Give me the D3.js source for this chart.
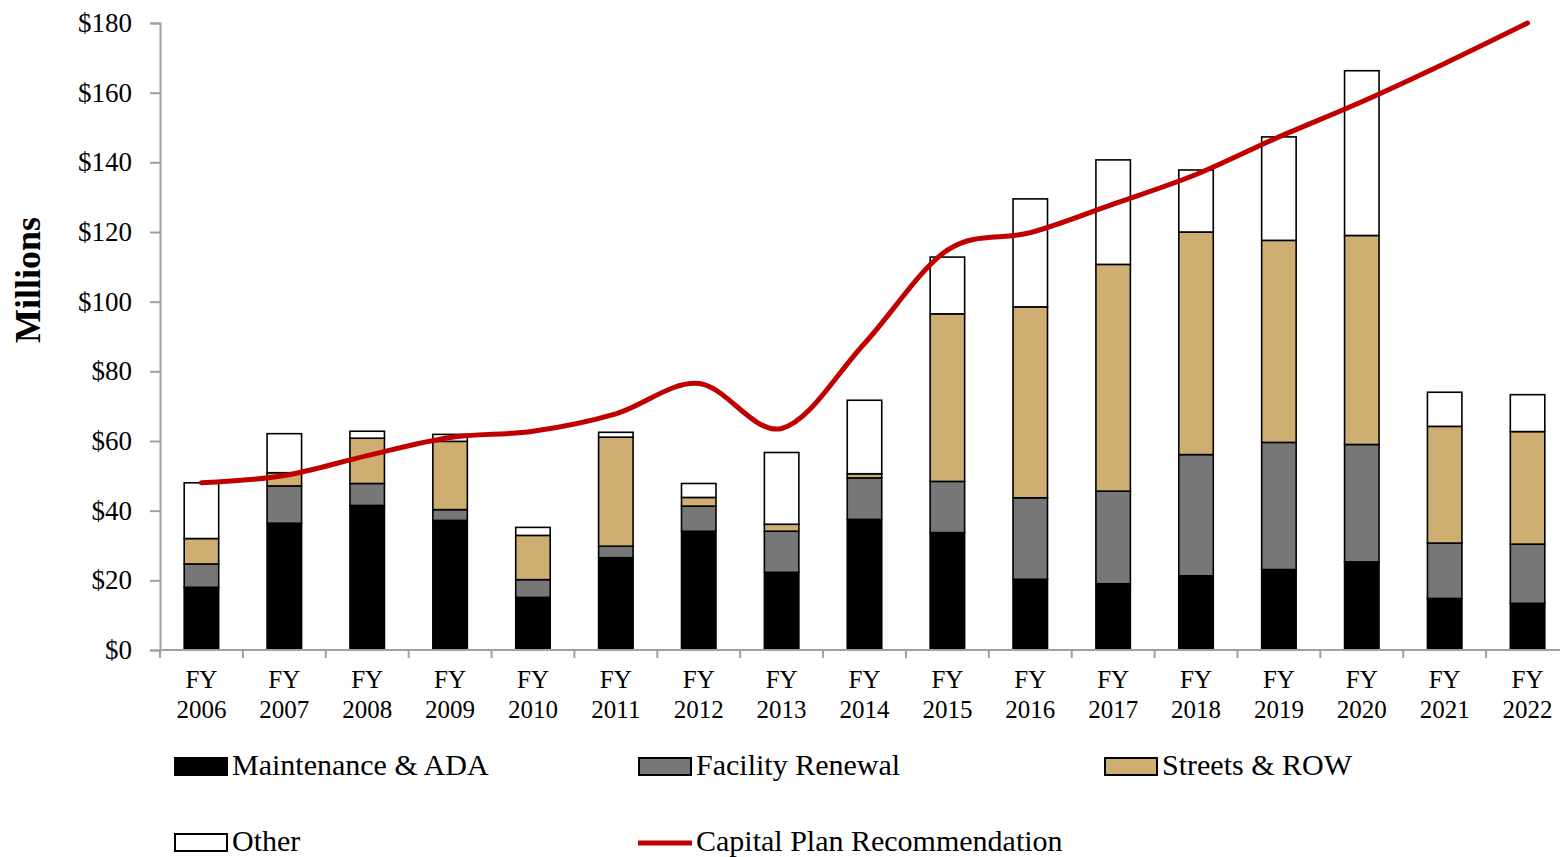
<!DOCTYPE html>
<html>
<head>
<meta charset="utf-8">
<script src="https://cdn.jsdelivr.net/npm/d3@7"></script>
<style>
  html, body { margin: 0; padding: 0; background: #fff; overflow: hidden; }
  svg { display: block; }
  text { font-family: "Liberation Serif", "DejaVu Serif", serif; fill: #000; }
</style>
</head>
<body>
<svg id="chart" width="1560" height="857"></svg>
<script>
// ---- Data (in $ millions) ----
const categories = ["FY 2006","FY 2007","FY 2008","FY 2009","FY 2010","FY 2011","FY 2012","FY 2013","FY 2014","FY 2015","FY 2016","FY 2017","FY 2018","FY 2019","FY 2020","FY 2021","FY 2022"];
const maintenance = [18.0, 36.4, 41.5, 37.2, 15.1, 26.5, 34.1, 22.3, 37.5, 33.7, 20.3, 19.0, 21.3, 23.1, 25.3, 14.8, 13.4];
const facility    = [ 6.7, 10.7,  6.3,  3.1,  5.1,  3.3,  7.2, 11.8, 11.9, 14.7, 23.4, 26.6, 34.8, 36.5, 33.7, 15.9, 17.0];
const streets     = [ 7.3,  3.8, 13.0, 19.6, 12.7, 31.3,  2.5,  2.0,  1.2, 48.1, 54.8, 65.1, 63.9, 58.0, 60.0, 33.5, 32.3];
const other       = [16.0, 11.2,  2.0,  2.0,  2.3,  1.4,  4.0, 20.6, 21.1, 16.3, 31.0, 30.0, 17.8, 29.7, 47.3,  9.8, 10.6];
const capitalPlan = [48.0, 50.1, 55.8, 61.0, 62.8, 67.8, 76.5, 63.6, 88.0, 114.8, 119.8, 128.0, 136.5, 147.3, 157.4, 168.4, 180.0];
const yTicks = [0, 20, 40, 60, 80, 100, 120, 140, 160, 180];
const seriesNames = ["Maintenance & ADA", "Facility Renewal", "Streets & ROW", "Other"];
const lineName = "Capital Plan Recommendation";

const colors = ["#000000", "#777777", "#CFAE72", "#FFFFFF"];
const lineColor = "#C00000";

const svg = d3.select("#chart");
const plot = { left: 160, right: 1569, top: 23, bottom: 650 };

const x = d3.scaleBand()
  .domain(categories)
  .range([plot.left, plot.right])
  .paddingInner(0.584)
  .paddingOuter(0.292);

const y = d3.scaleLinear().domain([0, 180]).range([plot.bottom, plot.top]);

// stacked data
const table = categories.map((c, i) => ({
  cat: c,
  [seriesNames[0]]: maintenance[i],
  [seriesNames[1]]: facility[i],
  [seriesNames[2]]: streets[i],
  [seriesNames[3]]: other[i]
}));
const stacked = d3.stack().keys(seriesNames)(table);

// Bars
svg.append("g").selectAll("g")
  .data(stacked)
  .join("g")
    .attr("fill", (d, i) => colors[i])
  .selectAll("rect")
  .data(d => d)
  .join("rect")
    .attr("x", d => x(d.data.cat))
    .attr("width", x.bandwidth())
    .attr("y", d => y(d[1]))
    .attr("height", d => y(d[0]) - y(d[1]))
    .attr("stroke", "#000")
    .attr("stroke-width", 1.6);

// Y axis
const yAxis = d3.axisLeft(y).tickValues(yTicks).tickSize(10).tickPadding(18)
  .tickFormat(d => "$" + d);
const gy = svg.append("g").attr("transform", `translate(${plot.left},0)`).call(yAxis);
gy.select(".domain").attr("stroke", "#a0a0a0").attr("stroke-width", 2);
gy.selectAll(".tick line").attr("stroke", "#a0a0a0").attr("stroke-width", 2);
gy.selectAll(".tick text")
  .style("font-family", '"Liberation Serif", serif')
  .style("font-size", "27px")
  .attr("fill", "#000");

// X axis line and ticks at band boundaries
const step = x.step();
const boundaries = d3.range(categories.length + 1).map(i => plot.left + i * step);
svg.append("line")
  .attr("x1", plot.left).attr("x2", plot.right)
  .attr("y1", y(0)).attr("y2", y(0))
  .attr("stroke", "#a0a0a0").attr("stroke-width", 2);
svg.append("g").selectAll("line")
  .data(boundaries)
  .join("line")
    .attr("x1", d => d).attr("x2", d => d)
    .attr("y1", y(0)).attr("y2", y(0) + 8)
    .attr("stroke", "#a0a0a0").attr("stroke-width", 2);

// X labels (two lines)
const xl = svg.append("g").selectAll("text")
  .data(categories)
  .join("text")
    .attr("text-anchor", "middle")
    .style("font-size", "25px")
    .attr("x", d => x(d) + x.bandwidth() / 2);
xl.append("tspan").attr("x", d => x(d) + x.bandwidth() / 2).attr("y", 688).text(d => d.split(" ")[0]);
xl.append("tspan").attr("x", d => x(d) + x.bandwidth() / 2).attr("y", 718).text(d => d.split(" ")[1]);

// Y title
svg.append("text")
  .attr("transform", "translate(40,280) rotate(-90)")
  .attr("text-anchor", "middle")
  .style("font-size", "36px")
  .style("font-weight", "bold")
  .text("Millions");

// Line
const line = d3.line()
  .x((d, i) => x(categories[i]) + x.bandwidth() / 2)
  .y(d => y(d))
  .curve(d3.curveCatmullRom.alpha(0));
svg.append("path")
  .datum(capitalPlan)
  .attr("d", line)
  .attr("fill", "none")
  .attr("stroke", lineColor)
  .attr("stroke-width", 5)
  .attr("stroke-linecap", "round");

// Legend
const legendItems = [
  { name: seriesNames[0], type: "rect", color: colors[0], col: 0, row: 0 },
  { name: seriesNames[1], type: "rect", color: colors[1], col: 1, row: 0 },
  { name: seriesNames[2], type: "rect", color: colors[2], col: 2, row: 0 },
  { name: seriesNames[3], type: "rect", color: colors[3], col: 0, row: 1 },
  { name: lineName, type: "line", color: lineColor, col: 1, row: 1 }
];
const colX = [174, 638, 1104];
const rowY = [766, 842];
const lg = svg.append("g").selectAll("g")
  .data(legendItems)
  .join("g")
    .attr("transform", d => `translate(${colX[d.col]},${rowY[d.row]})`);
lg.filter(d => d.type === "rect").append("rect")
  .attr("x", 1).attr("y", -8).attr("width", 52).attr("height", 17)
  .attr("fill", d => d.color).attr("stroke", "#000").attr("stroke-width", 2);
lg.filter(d => d.type === "line").append("line")
  .attr("x1", 0).attr("x2", 54).attr("y1", 1).attr("y2", 1)
  .attr("stroke", d => d.color).attr("stroke-width", 5);
lg.append("text")
  .attr("x", 58).attr("y", 9)
  .style("font-size", "30px")
  .text(d => d.name);
</script>
</body>
</html>
